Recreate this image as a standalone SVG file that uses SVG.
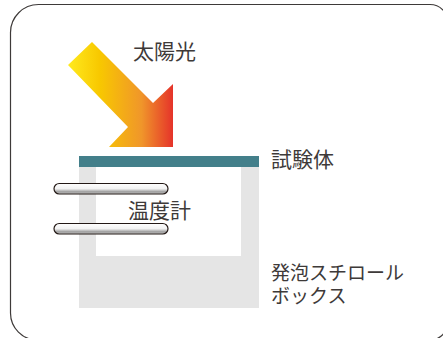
<svg xmlns="http://www.w3.org/2000/svg" width="443" height="338" viewBox="0 0 443 338">
  <style>
    .lbl { font-family: "Liberation Sans", "Noto Sans CJK JP", sans-serif; font-size: 21px; fill: #3e3a39; }
    .kana { font-size: 19px; }
    .therm { fill: url(#thermGrad); stroke: #231815; stroke-width: 1.2; }
  </style>
  <defs>
    <linearGradient id="sunGrad" x1="68" y1="0" x2="173" y2="0" gradientUnits="userSpaceOnUse">
      <stop offset="0" stop-color="#FFEA1E"/>
      <stop offset="0.3" stop-color="#F8C800"/>
      <stop offset="0.7" stop-color="#F0962A"/>
      <stop offset="1" stop-color="#E5332A"/>
    </linearGradient>
    <linearGradient id="thermGrad" x1="0" y1="0" x2="0" y2="1">
      <stop offset="0" stop-color="#ffffff"/>
      <stop offset="0.5" stop-color="#f2f2f2"/>
      <stop offset="0.8" stop-color="#9a9a9a"/>
      <stop offset="1" stop-color="#d0d0d0"/>
    </linearGradient>
  </defs>

  <rect width="443" height="338" fill="#ffffff"/>
  <!-- outer frame -->
  <path d="M10.5 32.5 A28 28 0 0 1 38.5 4.5 H430 A18 18 0 0 1 448 22.5 V322 A18 18 0 0 1 430 340 H37.5 A27 27 0 0 1 10.5 313 Z" fill="none" stroke="#3e3a39" stroke-width="1.2"/>

  <!-- foam box -->
  <g id="box">
    <path d="M79 167 H259 V308 H79 Z M96 167 V256 H241 V167 Z" fill="#e5e5e5" fill-rule="evenodd"/>
  </g>

  <!-- specimen plate -->
  <g id="specimen">
    <rect x="79" y="156" width="180" height="11" fill="#437f8a"/>
  </g>

  <!-- sunlight arrow -->
  <g id="sun">
    <polygon points="92,42 153,103 173,84 173,147 109,147 128,127 68,65" fill="url(#sunGrad)"/>
  </g>

  <!-- thermometers -->
  <g id="thermometer1">
    <rect class="therm" x="54" y="183.5" width="114" height="10.5" rx="5.25" ry="5.25"/>
  </g>
  <g id="thermometer2">
    <rect class="therm" x="54" y="223.5" width="114" height="10.5" rx="5.25" ry="5.25"/>
  </g>

  <!-- labels -->
  <g id="labels">
    <text class="lbl" x="133" y="59">太陽光</text>
    <text class="lbl" x="271" y="167">試験体</text>
    <text class="lbl" x="128" y="218">温度計</text>
    <text class="lbl kana" x="271" y="280">発泡スチロール</text>
    <text class="lbl kana" x="271" y="303">ボックス</text>
  </g>
</svg>
